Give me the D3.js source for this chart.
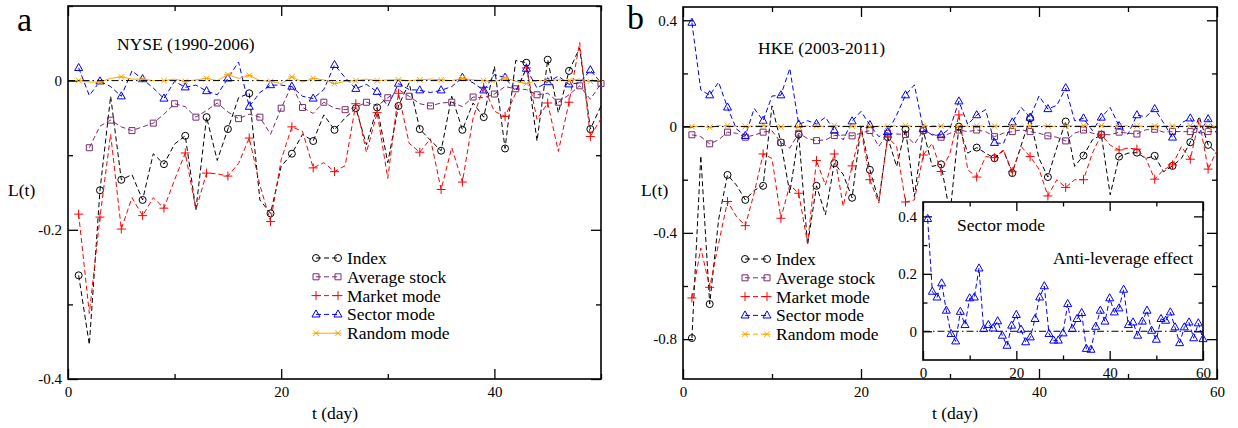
<!DOCTYPE html>
<html>
<head>
<meta charset="utf-8">
<script src="https://cdn.jsdelivr.net/npm/d3@7"></script>
<style>
body { margin: 0; background: #fff; }
</style>
</head>
<body>
<svg id="chart" width="1238" height="428"></svg>
<script>
// ---- data ----
var seriesNames = ["Index", "Average stock", "Market mode", "Sector mode", "Random mode"];

// panel a : NYSE, t = 1..50
var daysA = d3.range(1, 51);
var nyseIndex = [-0.261,-0.354,-0.147,-0.021,-0.133,-0.126,-0.160,-0.098,-0.112,-0.085,
  -0.074,-0.173,-0.049,-0.107,-0.065,-0.023,-0.017,-0.160,-0.178,-0.115,
  -0.098,-0.072,-0.081,-0.046,-0.066,-0.050,-0.037,-0.086,-0.036,-0.110,
  -0.034,-0.003,-0.065,-0.080,-0.094,-0.021,-0.066,-0.030,-0.049,0.019,
  -0.091,0.027,0.024,-0.081,0.028,-0.043,0.013,0.044,-0.065,-0.034];
var nyseAvg = [null,-0.090,-0.061,-0.053,-0.062,-0.067,-0.062,-0.057,-0.045,-0.031,
  -0.035,-0.049,-0.040,-0.030,-0.042,-0.051,-0.045,-0.049,-0.072,-0.037,
  -0.006,-0.036,-0.044,-0.029,-0.037,-0.039,-0.036,-0.029,-0.034,-0.023,
  -0.012,-0.021,-0.031,-0.034,-0.030,-0.029,-0.035,-0.022,-0.023,-0.018,
  -0.008,-0.011,-0.012,-0.019,-0.017,-0.029,-0.019,-0.007,-0.025,-0.004];
var nyseMarket = [-0.179,-0.312,-0.183,-0.072,-0.199,-0.157,-0.181,-0.157,-0.171,-0.133,
  -0.097,-0.173,-0.124,-0.125,-0.128,-0.111,-0.077,-0.140,-0.189,-0.106,
  -0.062,-0.068,-0.117,-0.110,-0.122,-0.114,-0.031,-0.096,-0.043,-0.131,
  -0.017,-0.084,-0.096,-0.078,-0.146,-0.090,-0.136,-0.050,-0.009,-0.041,
  -0.048,-0.017,0.017,-0.052,-0.030,-0.095,-0.029,0.051,-0.075,-0.051];
var nyseSector = [0.017,-0.020,-0.001,-0.008,-0.021,0.013,0.002,-0.010,-0.024,-0.001,
  -0.009,-0.006,-0.014,-0.019,0.003,0.025,-0.035,-0.016,-0.006,-0.006,
  -0.008,-0.021,-0.024,-0.012,0.021,0.004,-0.011,-0.005,-0.015,-0.034,
  -0.004,-0.012,-0.013,-0.016,-0.013,-0.008,0.004,-0.003,-0.013,0.008,
  0.004,-0.014,0.016,-0.010,-0.002,0.006,-0.005,-0.003,0.014,-0.003];
var nyseRandom = [0.000,-0.002,-0.002,0.003,0.005,0.002,0.002,0.000,0.000,0.002,
  -0.001,0.001,0.003,0.000,0.008,0.003,0.007,0.000,-0.001,-0.004,
  0.005,-0.002,0.003,0.001,-0.004,-0.001,0.000,0.002,0.000,0.001,
  0.001,0.000,0.001,0.002,0.001,0.000,0.003,0.001,0.000,-0.002,
  0.004,-0.001,-0.004,0.000,0.000,0.001,0.000,0.002,-0.001,0.000];

// panel b : HKE, t = 1..60
var daysB = d3.range(1, 61);
var hkeIndex = [-0.796,-0.110,-0.668,-0.350,-0.182,-0.220,-0.276,-0.240,-0.223,0.078,
  -0.060,-0.250,-0.030,-0.445,-0.223,-0.332,-0.138,-0.180,-0.268,0.000,
  -0.163,-0.280,-0.040,-0.150,-0.010,-0.263,-0.015,-0.150,-0.142,-0.330,
  0.000,-0.100,-0.079,-0.100,-0.119,-0.090,-0.175,-0.070,0.031,-0.120,
  -0.190,-0.080,0.019,-0.150,-0.109,-0.050,-0.031,-0.257,-0.113,-0.100,
  -0.098,-0.120,-0.110,-0.170,-0.148,-0.120,-0.059,0.038,-0.069,-0.100];
var hkeAvg = [-0.031,-0.038,-0.065,-0.050,-0.021,-0.025,-0.040,-0.032,-0.021,-0.016,
  -0.060,-0.081,-0.025,-0.045,-0.053,-0.050,-0.034,-0.032,-0.035,-0.025,
  -0.015,-0.075,-0.025,-0.028,-0.030,-0.066,-0.015,-0.028,-0.040,-0.025,
  -0.013,-0.019,-0.013,-0.019,-0.038,-0.025,-0.019,-0.012,-0.019,-0.025,
  -0.035,-0.040,-0.054,-0.025,-0.013,-0.025,-0.029,-0.031,-0.021,-0.025,
  -0.028,-0.012,-0.010,-0.021,-0.019,-0.019,-0.019,-0.025,-0.019,-0.019];
var hkeMarket = [-0.645,-0.457,-0.605,-0.440,-0.282,-0.338,-0.373,-0.250,-0.103,-0.120,
  -0.345,-0.220,-0.251,-0.440,-0.128,-0.220,-0.103,-0.300,-0.148,-0.010,
  -0.200,-0.288,-0.040,-0.075,-0.284,-0.276,-0.107,-0.063,-0.169,-0.100,
  0.044,-0.163,-0.190,-0.113,-0.117,-0.088,-0.170,-0.075,-0.113,-0.160,
  -0.261,-0.200,-0.229,-0.200,-0.200,-0.100,-0.031,-0.070,-0.088,-0.081,
  -0.085,-0.120,-0.198,-0.163,-0.144,-0.075,-0.123,0.025,-0.160,-0.090];
var hkeSector = [0.391,0.138,0.118,0.167,0.072,-0.009,-0.035,0.068,0.022,0.115,
  0.118,0.219,0.008,0.022,0.010,0.035,-0.015,-0.050,0.020,0.057,
  0.006,-0.038,-0.021,0.043,0.118,0.157,-0.009,-0.032,-0.032,-0.007,
  0.095,0.008,0.043,0.064,-0.061,-0.064,0.016,0.072,0.034,0.115,
  0.066,0.080,0.145,0.022,0.031,-0.015,0.034,0.072,0.002,-0.029,
  0.043,0.037,0.066,0.014,-0.041,0.014,0.031,-0.024,0.028,-0.027];
var hkeRandom = [0.000,0.002,-0.003,0.004,0.003,0.002,0.000,0.003,0.004,0.001,
  -0.001,0.002,0.000,0.003,0.002,0.001,0.004,0.002,0.001,0.003,
  0.000,0.002,0.001,0.003,0.003,0.001,0.002,0.004,0.002,0.003,
  0.001,0.002,0.003,0.001,0.002,0.002,0.001,0.003,0.002,0.004,
  0.002,0.001,0.002,0.003,0.003,0.002,0.004,0.002,0.001,0.003,
  0.002,0.001,0.002,0.003,0.002,0.001,0.003,0.002,0.002,0.001];

// style of each series (same order as seriesNames)
var colors = ["#000000", "#7a2c6c", "#ff0000", "#0000ff", "#ffa500"];
var symbols = ["circle", "square", "plus", "triangle", "cross"];
var serif = "'Liberation Serif', 'Times New Roman', 'DejaVu Serif', serif";

var svg = d3.select("#chart");

// open xmgrace-like markers
function marker(type) {
  if (type == "circle") return "M3.5,0A3.5,3.5 0 1,1 -3.5,0A3.5,3.5 0 1,1 3.5,0Z";
  if (type == "square") return "M-3,-3H3V3H-3Z";
  if (type == "triangle") return "M0,-4.5L4,2.6H-4Z";
  if (type == "plus") return "M-4.5,0H4.5M0,-4.5V4.5";
  return "M-2.8,-2.8L2.8,2.8M-2.8,2.8L2.8,-2.8M-3.6,0H3.6";
}

function frame(g, o) {
  var x = d3.scaleLinear().domain(o.xDomain).range([o.left, o.right]);
  var y = d3.scaleLinear().domain(o.yDomain).range([o.bottom, o.top]);
  var fmt = function(d) { return String(d); };

  // inward ticks, mirrored on all four sides
  var axes = [
    [d3.axisBottom(x).tickValues(o.xMajor).tickFormat(fmt).tickSize(-o.tick).tickPadding(7), "translate(0," + o.bottom + ")"],
    [d3.axisBottom(x).tickValues(o.xMinor).tickFormat("").tickSize(-o.tick / 2), "translate(0," + o.bottom + ")"],
    [d3.axisTop(x).tickValues(o.xMajor).tickFormat("").tickSize(-o.tick), "translate(0," + o.top + ")"],
    [d3.axisTop(x).tickValues(o.xMinor).tickFormat("").tickSize(-o.tick / 2), "translate(0," + o.top + ")"],
    [d3.axisLeft(y).tickValues(o.yMajor).tickFormat(fmt).tickSize(-o.tick).tickPadding(6), "translate(" + o.left + ",0)"],
    [d3.axisLeft(y).tickValues(o.yMinor).tickFormat("").tickSize(-o.tick / 2), "translate(" + o.left + ",0)"],
    [d3.axisRight(y).tickValues(o.yMajor).tickFormat("").tickSize(-o.tick), "translate(" + o.right + ",0)"],
    [d3.axisRight(y).tickValues(o.yMinor).tickFormat("").tickSize(-o.tick / 2), "translate(" + o.right + ",0)"]
  ];
  axes.forEach(function(a) {
    var ax = g.append("g").attr("transform", a[1]).call(a[0].tickSizeOuter(0));
    ax.attr("font-family", serif);
    ax.select(".domain").remove();
    ax.selectAll("line").attr("stroke", "#000").attr("stroke-width", 1.3);
    ax.selectAll("text").style("font-family", serif).style("font-size", o.fontSize + "px").attr("fill", "#000");
  });

  g.append("rect")
    .attr("x", o.left).attr("y", o.top)
    .attr("width", o.right - o.left).attr("height", o.bottom - o.top)
    .attr("fill", "none").attr("stroke", "#000").attr("stroke-width", 1.6);
  return {x: x, y: y};
}

function zeroLine(g, s, d0, d1) {
  g.append("line")
    .attr("x1", s.x(d0)).attr("x2", s.x(d1))
    .attr("y1", s.y(0)).attr("y2", s.y(0))
    .attr("stroke", "#000").attr("stroke-width", 1)
    .attr("stroke-dasharray", "7,3,1.5,3");
}

function drawSeries(g, s, days, vals, color, sym, dash) {
  var pts = days.map(function(d, i) { return {t: d, v: vals[i]}; })
    .filter(function(p) { return p.v !== null; });
  var line = d3.line().x(function(p) { return s.x(p.t); }).y(function(p) { return s.y(p.v); });
  g.append("path").datum(pts)
    .attr("d", line)
    .attr("fill", "none").attr("stroke", color).attr("stroke-width", 1)
    .attr("stroke-dasharray", dash);
  // symbols on every other point
  g.selectAll(null).data(pts.filter(function(p, i) { return i % 2 == 0; }))
    .enter().append("path")
    .attr("transform", function(p) { return "translate(" + s.x(p.t) + "," + s.y(p.v) + ")"; })
    .attr("d", marker(sym))
    .attr("fill", "none").attr("stroke", color).attr("stroke-width", 1);
}

function text(g, x, y, txt, size, anchor) {
  return g.append("text").attr("x", x).attr("y", y)
    .attr("text-anchor", anchor || "start")
    .style("font-family", serif)
    .style("font-size", size + "px").attr("fill", "#000").text(txt);
}

function legend(g, x0, y0, dashes) {
  seriesNames.forEach(function(name, i) {
    var yy = y0 + i * 18.8;
    g.append("line").attr("x1", x0).attr("x2", x0 + 22).attr("y1", yy).attr("y2", yy)
      .attr("stroke", colors[i]).attr("stroke-width", 1).attr("stroke-dasharray", dashes[i]);
    [x0, x0 + 22].forEach(function(xx) {
      g.append("path").attr("transform", "translate(" + xx + "," + yy + ")")
        .attr("d", marker(symbols[i])).attr("fill", "none").attr("stroke", colors[i]);
    });
    text(g, x0 + 31, yy + 6, name, 17.5);
  });
}

// ---------- panel a ----------
var gA = svg.append("g");
var sA = frame(gA, {left: 68, right: 601, top: 6, bottom: 379, xDomain: [0, 50], yDomain: [-0.4, 0.1],
  xMajor: [0, 20, 40], xMinor: [10, 30, 50], yMajor: [0, -0.2, -0.4], yMinor: [0.1, -0.1, -0.3],
  tick: 10, fontSize: 15});
var dashA = ["5,3", "5,3", "5,3", "5,3", null];
var setsA = [nyseIndex, nyseAvg, nyseMarket, nyseSector, nyseRandom];
setsA.forEach(function(vals, i) { drawSeries(gA, sA, daysA, vals, colors[i], symbols[i], dashA[i]); });
zeroLine(gA, sA, 0, 50);
legend(gA, 316, 258, dashA);

// ---------- panel b ----------
var gB = svg.append("g");
var sB = frame(gB, {left: 683, right: 1217, top: 7, bottom: 379, xDomain: [0, 60], yDomain: [-0.95, 0.45],
  xMajor: [0, 20, 40, 60], xMinor: [10, 30, 50], yMajor: [0.4, 0, -0.4, -0.8], yMinor: [0.2, -0.2, -0.6],
  tick: 10, fontSize: 15});
var dashB = ["5,3", "5,3", "5,3", "5,3", "5,3"];
var setsB = [hkeIndex, hkeAvg, hkeMarket, hkeSector, hkeRandom];
setsB.forEach(function(vals, i) { drawSeries(gB, sB, daysB, vals, colors[i], symbols[i], dashB[i]); });
zeroLine(gB, sB, 0, 60);
legend(gB, 745, 259, dashB);

// ---------- inset: sector mode, every point marked ----------
var gI = svg.append("g");
gI.append("rect").attr("x", 923).attr("y", 202).attr("width", 280).attr("height", 158).attr("fill", "#fff");
var sI = frame(gI, {left: 923, right: 1203, top: 202, bottom: 360, xDomain: [0, 60], yDomain: [-0.1, 0.45],
  xMajor: [0, 20, 40, 60], xMinor: [10, 30, 50], yMajor: [0, 0.2, 0.4], yMinor: [0.1, 0.3],
  tick: 9, fontSize: 15});
zeroLine(gI, sI, 0, 60);
gI.append("path").datum(daysB.map(function(d, i) { return {t: d, v: hkeSector[i]}; }))
  .attr("d", d3.line().x(function(p) { return sI.x(p.t); }).y(function(p) { return sI.y(p.v); }))
  .attr("fill", "none").attr("stroke", colors[3]).attr("stroke-dasharray", "5,3");
gI.selectAll(null).data(hkeSector).enter().append("path")
  .attr("transform", function(v, i) { return "translate(" + sI.x(daysB[i]) + "," + sI.y(v) + ")"; })
  .attr("d", marker("triangle")).attr("fill", "none").attr("stroke", colors[3]);

// ---------- texts ----------
text(svg, 117, 50, "NYSE (1990-2006)", 17.5);
text(svg, 758, 54, "HKE (2003-2011)", 17.5);
text(gI, 957, 231, "Sector mode", 17.5);
text(gI, 1053, 264, "Anti-leverage effect", 17.5);
text(svg, 8, 196, "L(t)", 17.5);
text(svg, 641, 196, "L(t)", 17.5);
text(svg, 335, 419, "t (day)", 17.5, "middle");
text(svg, 955, 419, "t (day)", 17.5, "middle");
text(svg, 17, 31, "a", 34);
text(svg, 627, 29, "b", 34);
</script>
</body>
</html>
